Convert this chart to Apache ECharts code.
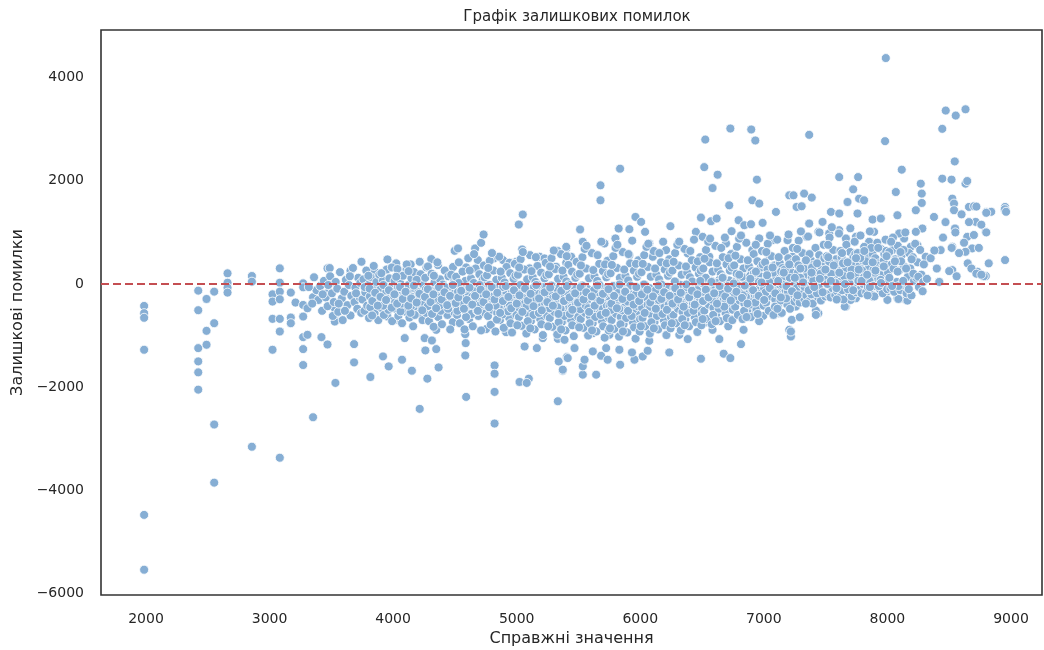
<!DOCTYPE html>
<html>
<head>
<meta charset="utf-8">
<script src="https://cdn.jsdelivr.net/npm/echarts@6/dist/echarts.min.js"></script>
<style>
  html, body { margin: 0; padding: 0; background: #fff; }
  #chart { width: 1044px; height: 650px; }
</style>
</head>
<body>
<div id="chart"></div>
<script>
// texts
const chartTitle = "Графік залишкових помилок";
const xName = "Справжні значення";
const yName = "Залишкові помилки";

// points: [true value, residual]
const leftPts = [
  [1985,-425],[1985,-565],[1985,-655],[1985,-1275],[1985,-4476],[1985,-5539],
  [2423,-129],[2423,-508],[2423,-1243],[2423,-1500],[2423,-1713],[2423,-2048],
  [2490,-290],[2490,-908],[2490,-1178],
  [2552,-148],[2552,-760],[2552,-2724],[2552,-3851],
  [2660,207],[2660,25],[2660,-71],[2660,-167],
  [2857,155],[2857,45],[2857,-3155],
  [3024,-200],[3024,-341],[3024,-676],[3024,-1275],
  [3083,303],[3083,25],[3083,-148],[3083,-296],[3083,-676],[3083,-921],[3083,-3368],
  [3172,-167],[3172,-650],[3172,-760],[3210,-360],
  [3272,13],[3272,-64],[3272,-406],[3272,-631],[3272,-1030],[3272,-1262],[3272,-1571],
  [3307,-470],[3307,-985],[3352,-2583],[3352,-257],[3420,-245],[3420,-1030],
  [3469,303],[3469,-180],[3469,-1172],[3533,-1918],[3533,-695],[3533,13]
];

const upperPts = [
  [3744,431],[3655,257],[3487,309],[3954,477],[4025,400],[4142,380],[4215,431],[4309,483],
  [4363,367],[4498,643],[4525,690],[4664,690],[4712,798],[4732,960],[4685,464],[4816,496],
  [4889,464],[4942,412],[5017,1153],[5049,1347],[5044,670],[4996,431],[5185,528],[5225,496],
  [5333,638],[5401,690],[5401,412],[3851,238],[4108,284],[4270,322],[4457,238],[4591,322],
  [4781,284],[5104,303],[5319,334],
  [5837,2235],[5678,1913],[5678,1623],[6518,2266],[6626,2119],[6585,1860],[6944,2023],
  [6720,1526],[6907,1623],[6963,1559],[7206,1719],[7265,1494],[7098,1397],[5961,1300],
  [6007,1204],[5513,1057],[5825,1076],[5912,1063],[6039,1011],[6244,1121],[6491,1288],
  [6573,1217],[6618,1269],[6796,1236],[6842,1140],[6896,1159],[6990,1185],[6739,1024],
  [7192,850],[7071,850],[6450,1011],[5401,721],[5535,818],[5710,786],[5799,883],[6073,786],
  [6316,818],[6505,914],[6694,786],[6815,914],[6963,883],[5441,528],[5616,593],[5777,528],
  [5912,560],[6101,528],[6209,657],[6384,593],[6559,528],[6748,593],[6907,657],[7044,560],
  [7232,528],
  [6526,2800],[6729,3014],[6898,2995],[6931,2782],
  [7610,2073],[7763,2073],[8444,2042],[8519,2023],[8632,1945],[8116,2216],
  [7240,1719],[7326,1752],[7388,1675],[7306,1507],[7723,1835],[7677,1590],[7771,1655],
  [7811,1623],[8068,1783],[8270,1945],[8278,1752],[8278,1571],[8230,1430],[8525,1655],
  [8539,1559],[8539,1430],[8660,1494],[8701,1507],[8800,1397],[8952,1494],[8952,1430],
  [8952,464],[8377,1300],[8081,1333],[8714,1204],[8646,914],[8547,1076],[8796,1011],
  [8686,690],[8632,624],[8525,721],[8431,657],[8310,528],[8283,1076],[8230,1011],[8135,883],
  [8095,980],[8728,238],[8796,155],[8418,45],[8525,270],[7192,850],[7543,1397],[7610,1366],
  [7758,1366],[7880,1250],[7947,1269],[7367,1172],[7475,1204],[7610,1043],[7745,914],
  [7892,1011],[7987,850],[7346,914],[7441,1011],[7529,980],[7664,883],[7852,818],[8040,657],
  [8189,721],[8243,753],
  [7987,4380],[8472,3362],[8553,3265],[8632,3387],[8444,3008],[7367,2892],[7981,2769],
  [8545,2376],[8646,1996]
];

const lowerPts = [
  [3684,-1165],[3684,-1520],[3816,-1803],[3918,-1404],[3964,-1597],[4072,-1468],[4094,-1049],
  [4152,-1681],[4215,-2421],[4255,-1049],[4261,-1288],[4277,-1835],[4314,-1095],[4349,-1262],
  [4368,-1617],[4349,-889],[3954,-631],[4039,-695],[4484,-740],[4584,-972],[4587,-1146],
  [4584,-1385],[4591,-2189],[4821,-1578],[4821,-1739],[4821,-2092],[4821,-2705],[4752,-875],
  [4914,-933],[5064,-1211],[5163,-1243],[5023,-1899],[5098,-1835],[5081,-1918],[5333,-2273],
  [5340,-1501],[5372,-1681],[5405,-1417],[5211,-1049],[5333,-1063],[5373,-728],[3528,-599],
  [3528,-728],[3528,-470],
  [5373,-1661],[5535,-1758],[5643,-1758],[5535,-1597],[5413,-1436],[5549,-1468],[5683,-1391],
  [5736,-1468],[5837,-1565],[5953,-1468],[6020,-1404],[6060,-1294],[5933,-1327],[5831,-1275],
  [5724,-1243],[5616,-1307],[5468,-1243],[6235,-1327],[6491,-1449],[6675,-1352],[6729,-1436],
  [6815,-1165],[6640,-1068],[6384,-1068],[6316,-985],[6209,-985],[6073,-1101],[5871,-921],
  [5750,-985],[5616,-953],[6836,-889],[6734,-682],[6585,-889],[6527,-747],[6446,-695],
  [6235,-728],[6114,-747],[5953,-631],[5750,-566],[5508,-695],[5387,-1082],[7119,-566],
  [6995,-618],[7206,-889],[7219,-1018],[7246,-438],[6907,-535],
  [7259,-438],[7441,-566],[7664,-438],[8081,-276],[8149,-309],[7987,-180],[7880,-212],
  [7543,-245],[7745,-276],[7219,-921],[7226,-695],[7291,-644],[7421,-515],[7421,-599],
  [7394,-309],[7655,-438],[7703,-309],[7555,-232],[7884,-245],[8000,-309],[8089,-290],
  [8162,-322],[7138,-566],[7138,-341]
];

// the dense band, by ranges of true value
const band3500 = [[3380,-120],[3395,-310],[3410,-40],[3425,-520],[3440,60],[3455,-260],[3470,-430],[3490,150],[3505,-180],[3512,-620],[3520,-350],[3535,40],[3548,-90],[3556,-540],[3570,230],[3585,-280],[3592,-700],[3605,-150],[3618,80],[3630,-410],[3642,-20],[3655,-610],[3662,-230],[3675,310],[3688,-350],[3695,-70],[3710,-480],[3718,120],[3730,-260],[3742,-560],[3318,-60],[3345,-380],[3360,130],[3430,-200],[3475,-20],[3560,-380],[3610,-520],[3650,150],[3700,-180],[3735,20]];
const band3750 = [[3752,-300],[3760,90],[3768,-520],[3775,-160],[3783,260],[3790,-420],[3798,-20],[3805,-660],[3812,-240],[3820,130],[3828,-380],[3835,-80],[3843,350],[3850,-560],[3858,-190],[3865,40],[3872,-330],[3880,-700],[3888,180],[3895,-110],[3902,-460],[3910,-260],[3918,70],[3925,-600],[3932,-30],[3940,-380],[3948,280],[3955,-210],[3962,-500],[3970,110],[3978,-310],[3985,-60],[3992,-720],[3998,-150],[3770,-60],[3815,-450],[3860,-300],[3905,210],[3945,-150],[3990,320],[3800,160],[3880,-230],[3960,-280],[3830,-610],[3920,-420]];
const band4000 = [[4005,-250],[4012,60],[4020,-480],[4028,-120],[4035,290],[4042,-620],[4050,-340],[4058,10],[4065,-200],[4072,-760],[4080,160],[4088,-410],[4095,-70],[4102,-540],[4110,380],[4118,-280],[4125,-20],[4132,-650],[4140,-180],[4148,110],[4155,-390],[4162,-820],[4170,230],[4178,-90],[4185,-470],[4192,-240],[4200,40],[4208,-580],[4215,-330],[4222,190],[4230,-140],[4238,-700],[4245,-20],[4015,-360],[4060,-530],[4100,-300],[4145,-430],[4190,80],[4235,-450],[4025,140],[4075,-140],[4125,250],[4175,-600],[4220,-260],[4040,-60],[4090,-220],[4160,-250],[4205,-160],[4140,-560],[4070,-380]];
const band4250 = [[4252,-380],[4260,120],[4268,-560],[4275,-200],[4282,340],[4290,-720],[4298,-60],[4305,-440],[4312,200],[4320,-290],[4328,-830],[4335,30],[4342,-510],[4350,-160],[4358,420],[4365,-640],[4372,-320],[4380,90],[4388,-240],[4395,-780],[4402,-10],[4410,-470],[4418,260],[4425,-350],[4432,-120],[4440,-600],[4448,150],[4455,-270],[4462,-880],[4470,-50],[4478,-420],[4485,330],[4492,-190],[4498,-560],[4265,-100],[4300,-260],[4340,-300],[4385,-520],[4420,-60],[4460,-340],[4495,80],[4280,-430],[4330,160],[4375,-420],[4430,-200],[4470,180],[4315,-580],[4445,-480],[4360,-90],[4405,-300]];
const band4500 = [[4502,-320],[4510,140],[4518,-600],[4525,-150],[4532,420],[4540,-760],[4548,-40],[4555,-470],[4562,240],[4570,-300],[4578,-880],[4585,60],[4592,-540],[4600,-210],[4608,500],[4615,-680],[4622,-360],[4630,110],[4638,-250],[4645,-820],[4652,20],[4660,-450],[4668,300],[4675,-380],[4682,-110],[4690,-620],[4698,190],[4705,-290],[4712,-900],[4720,-70],[4728,-480],[4735,360],[4742,-200],[4748,-570],[4515,-420],[4545,-250],[4575,-100],[4605,-400],[4635,-580],[4665,-140],[4695,-420],[4725,80],[4745,-330],[4530,20],[4560,-360],[4590,-640],[4620,260],[4650,-300],[4680,-520],[4710,-180],[4740,130],[4520,-520],[4610,-60],[4700,-20],[4655,580]];
const band4750 = [[4752,-340],[4760,170],[4768,-620],[4775,-130],[4782,450],[4790,-790],[4798,-30],[4805,-500],[4812,260],[4820,-280],[4828,-920],[4835,80],[4842,-560],[4850,-190],[4858,530],[4865,-700],[4872,-380],[4880,120],[4888,-240],[4895,-850],[4902,30],[4910,-460],[4918,330],[4925,-400],[4932,-100],[4940,-660],[4948,210],[4955,-310],[4962,-940],[4970,-60],[4978,-500],[4985,390],[4992,-210],[4998,-600],[4765,-430],[4795,-250],[4825,-80],[4855,-450],[4885,-590],[4915,-150],[4945,-420],[4975,100],[4780,-20],[4810,-370],[4840,-690],[4870,240],[4900,-300],[4930,-530],[4960,-170],[4990,160],[4770,310],[4830,-420],[4890,-60],[4950,-760],[4800,600]];
const band5000 = [[5002,-360],[5010,180],[5018,-640],[5025,-140],[5032,480],[5040,-810],[5048,-40],[5055,-520],[5062,280],[5070,-300],[5078,-960],[5085,90],[5092,-580],[5100,-200],[5108,560],[5115,-720],[5122,-400],[5130,130],[5138,-250],[5145,-880],[5152,40],[5160,-480],[5168,350],[5175,-420],[5182,-110],[5190,-680],[5198,220],[5205,-330],[5212,-990],[5220,-60],[5228,-520],[5235,410],[5242,-220],[5248,-620],[5015,-450],[5045,-260],[5075,-80],[5105,-460],[5135,-600],[5165,-160],[5195,-440],[5225,110],[5030,-20],[5060,-390],[5090,-720],[5120,250],[5150,-310],[5180,-560],[5210,-180],[5240,170],[5020,320],[5080,-430],[5140,-60],[5200,-780],[5050,620],[5110,-860],[5170,-20],[5230,-380],[5005,-800],[5155,520]];
const band5250 = [[5252,-380],[5260,190],[5268,-660],[5275,-150],[5282,500],[5290,-830],[5298,-50],[5305,-540],[5312,290],[5320,-310],[5328,-980],[5335,100],[5342,-600],[5350,-210],[5358,580],[5365,-740],[5372,-420],[5380,140],[5388,-260],[5395,-900],[5402,50],[5410,-500],[5418,370],[5425,-440],[5432,-120],[5440,-700],[5448,240],[5455,-340],[5462,-1010],[5470,-70],[5478,-540],[5485,430],[5492,-230],[5498,-640],[5265,-470],[5295,-270],[5325,-90],[5355,-480],[5385,-620],[5415,-170],[5445,-460],[5475,120],[5280,-30],[5310,-400],[5340,-740],[5370,260],[5400,-320],[5430,-580],[5460,-190],[5490,180],[5270,340],[5330,-450],[5390,-70],[5450,-800],[5300,650],[5360,-880],[5420,-10],[5480,-400],[5255,-820],[5405,540]];
const band5500 = [[5502,-400],[5510,200],[5518,-680],[5525,-160],[5532,520],[5540,-850],[5548,-60],[5555,-560],[5562,300],[5570,-320],[5578,-1000],[5585,110],[5592,-620],[5600,-220],[5608,600],[5615,-760],[5622,-440],[5630,150],[5638,-270],[5645,-920],[5652,60],[5660,-520],[5668,390],[5675,-460],[5682,-130],[5690,-720],[5698,250],[5705,-350],[5712,-1040],[5720,-80],[5728,-560],[5735,450],[5742,-240],[5748,-660],[5515,-490],[5545,-280],[5575,-100],[5605,-500],[5635,-640],[5665,-180],[5695,-480],[5725,130],[5530,-30],[5560,-420],[5590,-760],[5620,270],[5650,-330],[5680,-600],[5710,-200],[5740,190],[5520,360],[5580,-470],[5640,-80],[5700,-820],[5550,680],[5610,-900],[5670,-20],[5730,-420],[5505,-840],[5655,560],[5565,740],[5625,-120],[5685,820],[5715,380],[5745,-900]];
const band5750 = [[5752,-410],[5760,210],[5768,-700],[5775,-170],[5782,540],[5790,-870],[5798,-70],[5805,-580],[5812,310],[5820,-330],[5828,-1020],[5835,120],[5842,-640],[5850,-230],[5858,620],[5865,-780],[5872,-450],[5880,160],[5888,-280],[5895,-940],[5902,70],[5910,-540],[5918,400],[5925,-470],[5932,-140],[5940,-740],[5948,260],[5955,-360],[5962,-1060],[5970,-90],[5978,-580],[5985,460],[5992,-250],[5998,-680],[5765,-500],[5795,-290],[5825,-110],[5855,-510],[5885,-660],[5915,-190],[5945,-490],[5975,140],[5780,-40],[5810,-430],[5840,-780],[5870,280],[5900,-340],[5930,-620],[5960,-210],[5990,200],[5770,370],[5830,-480],[5890,-90],[5950,-840],[5800,700],[5860,-920],[5920,-30],[5980,-430],[5755,-860],[5905,580],[5815,760],[5875,-130],[5935,840],[5965,390],[5995,-920]];
const band6000 = [[6002,-380],[6010,230],[6018,-660],[6025,-140],[6032,560],[6040,-820],[6048,-40],[6055,-540],[6062,330],[6070,-300],[6078,-960],[6085,140],[6092,-600],[6100,-200],[6108,640],[6115,-740],[6122,-410],[6130,180],[6138,-250],[6145,-880],[6152,90],[6160,-500],[6168,420],[6175,-430],[6182,-110],[6190,-700],[6198,280],[6205,-330],[6212,-990],[6220,-60],[6228,-540],[6235,480],[6242,-220],[6248,-640],[6015,-460],[6045,-260],[6075,-80],[6105,-470],[6135,-620],[6165,-160],[6195,-450],[6225,160],[6030,-10],[6060,-400],[6090,-740],[6120,300],[6150,-310],[6180,-580],[6210,-180],[6240,220],[6020,390],[6080,-440],[6140,-60],[6200,-800],[6050,720],[6110,-860],[6170,-10],[6230,-400],[6005,-820],[6155,600],[6065,780],[6125,-120],[6185,820],[6215,400],[6245,-860]];
const band6250 = [[6252,-320],[6260,260],[6268,-600],[6275,-80],[6282,600],[6290,-760],[6298,20],[6305,-480],[6312,360],[6320,-240],[6328,-900],[6335,180],[6342,-540],[6350,-140],[6358,680],[6365,-680],[6372,-350],[6380,220],[6388,-190],[6395,-820],[6402,130],[6410,-440],[6418,460],[6425,-370],[6432,-50],[6440,-640],[6448,320],[6455,-270],[6462,-930],[6470,0],[6478,-480],[6485,520],[6492,-160],[6498,-580],[6265,-400],[6295,-200],[6325,-20],[6355,-410],[6385,-560],[6415,-100],[6445,-390],[6475,200],[6280,50],[6310,-340],[6340,-680],[6370,340],[6400,-250],[6430,-520],[6460,-120],[6490,260],[6270,430],[6330,-380],[6390,0],[6450,-740],[6300,760],[6360,-800],[6420,50],[6480,-340],[6255,-760],[6405,640],[6315,820],[6375,-60],[6435,860],[6465,440],[6495,-800]];
const band6500 = [[6502,-240],[6510,300],[6518,-520],[6525,-20],[6532,660],[6540,-680],[6548,80],[6555,-400],[6562,420],[6570,-160],[6578,-780],[6585,240],[6592,-460],[6600,-60],[6608,740],[6615,-600],[6622,-270],[6630,280],[6638,-110],[6645,-720],[6652,190],[6660,-360],[6668,520],[6675,-290],[6682,30],[6690,-560],[6698,380],[6705,-190],[6712,-820],[6720,70],[6728,-400],[6735,580],[6742,-80],[6748,-500],[6515,-320],[6545,-120],[6575,60],[6605,-330],[6635,-480],[6665,-20],[6695,-310],[6725,260],[6530,120],[6560,-260],[6590,-600],[6620,400],[6650,-170],[6680,-440],[6710,-40],[6740,320],[6520,490],[6580,-300],[6640,80],[6700,-660],[6550,820],[6610,-720],[6670,130],[6730,-260],[6505,-680],[6655,700],[6565,880],[6625,20],[6685,900],[6715,500],[6745,-700]];
const band6750 = [[6752,-160],[6760,360],[6768,-440],[6775,60],[6782,720],[6790,-600],[6798,160],[6805,-320],[6812,480],[6820,-80],[6828,-680],[6835,300],[6842,-380],[6850,20],[6858,800],[6865,-520],[6872,-190],[6880,340],[6888,-30],[6895,-640],[6902,250],[6910,-280],[6918,580],[6925,-210],[6932,110],[6940,-480],[6948,440],[6955,-110],[6962,-720],[6970,150],[6978,-320],[6985,640],[6992,0],[6998,-420],[6765,-240],[6795,-40],[6825,140],[6855,-250],[6885,-400],[6915,60],[6945,-230],[6975,320],[6780,200],[6810,-180],[6840,-520],[6870,460],[6900,-90],[6930,-360],[6960,40],[6990,380],[6770,550],[6830,-220],[6890,160],[6950,-580],[6800,880],[6860,-640],[6920,210],[6980,-180],[6815,940],[6935,760]];
const band7000 = [[7002,-80],[7010,420],[7018,-360],[7025,140],[7032,780],[7040,-520],[7048,240],[7055,-240],[7062,540],[7070,0],[7078,-600],[7085,360],[7092,-300],[7100,100],[7108,860],[7115,-440],[7122,-110],[7130,400],[7138,50],[7145,-560],[7152,310],[7160,-200],[7168,640],[7175,-130],[7182,190],[7190,-400],[7198,500],[7205,-30],[7212,-480],[7220,230],[7228,-240],[7235,700],[7242,80],[7248,-340],[7015,-160],[7045,40],[7075,220],[7105,-170],[7135,-320],[7165,140],[7195,-150],[7225,380],[7030,280],[7060,-100],[7090,-440],[7120,520],[7150,-10],[7180,-280],[7210,120],[7240,440],[7020,620],[7080,-140],[7140,240],[7200,960],[7050,940],[7110,-480],[7170,280],[7230,-100]];
const band7250 = [[7252,0],[7260,480],[7268,-280],[7275,220],[7282,840],[7290,-360],[7298,320],[7305,-160],[7312,600],[7320,80],[7328,-300],[7335,420],[7342,-220],[7350,180],[7358,920],[7365,-340],[7372,-30],[7380,460],[7388,130],[7395,-380],[7402,370],[7410,-120],[7418,700],[7425,-50],[7432,270],[7440,-260],[7448,560],[7455,50],[7462,-320],[7470,310],[7478,-160],[7485,760],[7492,160],[7498,-240],[7265,-80],[7295,120],[7325,300],[7355,-90],[7385,-200],[7415,220],[7445,-70],[7475,440],[7280,360],[7310,-20],[7340,-380],[7370,580],[7400,70],[7430,-180],[7460,200],[7490,500],[7270,680],[7330,-60],[7390,320],[7450,1000],[7300,1020]];
const band7500 = [[7502,80],[7510,540],[7518,-200],[7525,300],[7532,900],[7540,-260],[7548,400],[7555,-80],[7562,660],[7570,160],[7578,-220],[7585,480],[7592,-140],[7600,260],[7608,980],[7615,-260],[7622,50],[7630,520],[7638,210],[7645,-300],[7652,440],[7660,-40],[7668,760],[7675,30],[7682,340],[7690,-180],[7698,620],[7705,130],[7712,-240],[7720,390],[7728,-80],[7735,820],[7742,240],[7748,-160],[7515,0],[7545,200],[7575,380],[7605,-10],[7635,-120],[7665,300],[7695,10],[7725,520],[7530,430],[7560,60],[7590,-300],[7620,640],[7650,150],[7680,-100],[7710,280],[7740,580],[7520,760],[7580,20],[7640,400],[7700,1080],[7550,1100]];
const band7750 = [[7752,160],[7760,600],[7768,-120],[7775,360],[7782,940],[7790,-180],[7798,460],[7805,0],[7812,720],[7820,240],[7828,-160],[7835,540],[7842,-60],[7850,320],[7858,1020],[7865,-200],[7872,120],[7880,580],[7888,280],[7895,-240],[7902,500],[7910,40],[7918,800],[7925,100],[7932,400],[7940,-100],[7948,680],[7955,200],[7962,-180],[7970,450],[7978,-20],[7985,860],[7992,300],[7998,-100],[7765,60],[7795,260],[7825,440],[7855,60],[7885,-40],[7915,360],[7945,80],[7975,580],[7780,500],[7810,130],[7840,-220],[7870,700],[7900,220],[7930,-40],[7960,340],[7990,640]];
const band8000 = [[8005,220],[8015,620],[8025,-80],[8035,380],[8045,900],[8055,-150],[8065,480],[8075,40],[8085,740],[8095,260],[8105,-120],[8115,560],[8125,-20],[8135,340],[8145,1000],[8155,-180],[8165,140],[8175,600],[8185,300],[8195,-220],[8205,520],[8215,60],[8225,780],[8235,120],[8245,420],[8255,-60],[8265,660],[8275,180],[8285,-140],[8295,380],[8010,80],[8050,300],[8090,-40],[8130,660],[8170,-60],[8210,200],[8250,140],[8290,40],[8030,820],[8110,440]];
const band8300 = [[8320,100],[8350,500],[8380,650],[8400,300],[8420,40],[8450,900],[8470,1200],[8500,250],[8520,700],[8550,1000],[8560,150],[8580,600],[8600,1350],[8620,800],[8650,400],[8660,1200],[8680,300],[8700,950],[8720,200],[8740,700],[8760,1150],[8780,150],[8800,1000],[8820,400],[8840,1400],[8720,1500],[8760,180],[8800,1380],[8950,1450],[8960,1400]];

// the solid core of the band
const core = [[3810,-90],[3832,-330],[3855,-170],[3876,-420],[3898,-250],[3921,-20],[3943,-310],[3966,-120],[3988,-460],[4011,-200],[4033,-380],[4056,-60],[4078,-290],[4101,-150],[4123,-420],[4146,-280],[4168,-30],[4191,-360],[4213,-190],[4236,-510],[4258,-250],[4281,-100],[4303,-350],[4326,-200],[4348,-470],[4371,-60],[4393,-300],[4416,-160],[4438,-410],[4461,-230],[4483,-20],[4506,-370],[4528,-260],[4551,-130],[4573,-480],[4596,-310],[4618,-70],[4641,-400],[4663,-230],[4686,-520],[4708,-110],[4731,-350],[4753,-200],[4776,-450],[4798,-60],[4821,-300],[4843,-170],[4866,-560],[4888,-330],[4911,-40],[4933,-250],[4956,-470],[4978,-120],[5001,-380],[5023,-220],[5046,-540],[5068,-90],[5091,-320],[5113,-190],[5136,-430],[5158,-20],[5181,-280],[5203,-510],[5226,-160],[5248,-350],[5271,-70],[5293,-420],[5316,-240],[5338,-580],[5361,-130],[5383,-330],[5406,-40],[5428,-260],[5451,-500],[5473,-180],[5496,-360],[5518,-60],[5541,-300],[5563,-160],[5586,-540],[5608,-240],[5631,-420],[5653,-30],[5676,-320],[5698,-190],[5721,-560],[5743,-100],[5766,-380],[5788,-230],[5811,-470],[5833,-10],[5856,-290],[5878,-150],[5901,-520],[5923,-260],[5946,-400],[5968,-60],[5991,-330],[6013,-200],[6036,-560],[6058,-110],[6081,-360],[6103,-240],[6126,-480],[6148,-30],[6171,-290],[6193,-160],[6216,-500],[6238,-230],[6261,-380],[6283,-80],[6306,-300],[6328,-170],[6351,-440],[6373,-10],[6396,-260],[6418,-130],[6441,-400],[6463,-200],[6486,60],[6508,-330],[6531,-110],[6553,-260],[6576,40],[6598,-180],[6621,-380],[6643,-40],[6666,120],[6688,-240],[6711,-90],[6733,-320],[6756,10],[6778,-150],[6801,180],[6823,-270],[6846,-30],[6868,-380],[6891,100],[6913,-120],[6936,240],[6958,-230],[6981,30],[7003,-310],[7026,170],[7048,-80],[7071,320],[7093,-180],[7116,60],[7138,-260],[7161,220],[7183,-40],[7206,380],[7228,-140],[7251,120],[7273,-220],[7296,300],[7318,30],[7341,460],[7363,-120],[7386,220],[7408,-60],[7431,400],[7453,100],[7476,-160],[7498,280],[7521,520],[7543,60],[7566,360],[7588,-80],[7611,220],[7633,600],[7656,0],[7678,420],[7701,160],[7723,-120],[7746,500],[7768,280],[7791,60],[7813,640],[7836,180],[7858,-60],[7881,420],[7903,260],[7926,700],[7948,20],[7971,340],[7993,540],[8016,120],[8038,-40],[8061,440],[8083,240],[8106,620],[8128,60],[8151,300],[8173,-100],[8196,480]];

const residuals = [].concat(
  leftPts, upperPts, lowerPts,
  band3500, band3750, band4000, band4250, band4500, band4750,
  band5000, band5250, band5500, band5750, band6000, band6250,
  band6500, band6750, band7000, band7250, band7500, band7750,
  band8000, band8300, core
);

const chart = echarts.init(document.getElementById("chart"));
const font = "DejaVu Sans";
const minus = (v) => String(v).replace("-", "\u2212");

chart.setOption({
  animation: false,
  backgroundColor: "#fff",
  title: {
    text: chartTitle,
    left: 572,
    textAlign: "center",
    top: 5,
    textStyle: { fontFamily: font, fontSize: 15, fontWeight: "normal", color: "#262626" },
  },
  grid: {
    left: 101, right: 2, top: 30, bottom: 55,
    containLabel: false,
    outerBoundsMode: "none",
    show: true, borderColor: "#333", borderWidth: 1.6,
  },
  xAxis: {
    type: "value",
    min: 1636, max: 9251, splitNumber: 8,
    name: xName, nameLocation: "middle", nameGap: 36,
    nameTextStyle: { fontFamily: font, fontSize: 16, color: "#262626" },
    axisLine: { show: false }, axisTick: { show: false }, splitLine: { show: false },
    axisLabel: {
      fontFamily: font, fontSize: 14, color: "#262626", margin: 17,
      showMinLabel: false, showMaxLabel: false,
      formatter: (v) => (v % 1000 === 0 ? minus(v) : ""),
    },
  },
  yAxis: {
    type: "value",
    min: -6029, max: 4924,
    name: yName, nameLocation: "middle", nameGap: 74,
    nameTextStyle: { fontFamily: font, fontSize: 16, color: "#262626" },
    axisLine: { show: false }, axisTick: { show: false }, splitLine: { show: false },
    axisLabel: {
      fontFamily: font, fontSize: 14, color: "#262626", margin: 17,
      showMinLabel: false, showMaxLabel: false,
      formatter: (v) => (v % 2000 === 0 ? minus(v) : ""),
    },
  },
  series: [
    {
      type: "scatter",
      data: residuals,
      symbolSize: 9,
      itemStyle: { color: "#86aed4", borderColor: "#fff", borderWidth: 0.8, opacity: 1 },
      z: 2,
    },
    {
      type: "scatter",
      data: [],
      z: 5,
      markLine: {
        silent: true,
        symbol: "none",
        label: { show: false },
        lineStyle: { color: "#c44e52", type: [8, 4], width: 2 },
        data: [{ yAxis: 0 }],
      },
    },
  ],
});
</script>
</body>
</html>
